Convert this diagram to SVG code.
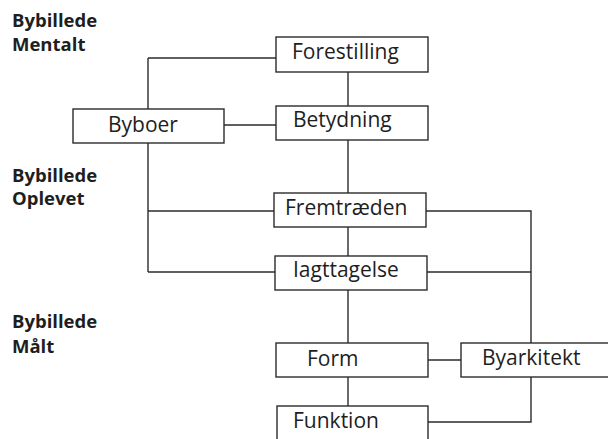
<svg xmlns="http://www.w3.org/2000/svg" width="608" height="439" viewBox="0 0 608 439">
<style>
.bg{fill:#fff}
.box{fill:#fff;stroke:#2b2b2b;stroke-width:1.4}
.ln{fill:none;stroke:#2b2b2b;stroke-width:1.4}
.lbl{font-family:"Open Sans","Liberation Sans",sans-serif;font-size:21px;fill:#1e1e1e}
.hd{font-family:"Open Sans","Liberation Sans",sans-serif;font-size:18.5px;font-weight:bold;fill:#1e1e1e}
</style>
<rect class="bg" x="0" y="0" width="608" height="439"/>
<g id="headings">
<text class="hd" x="12" y="27">Bybillede</text>
<text class="hd" x="12" y="51">Mentalt</text>
<text class="hd" x="12" y="182">Bybillede</text>
<text class="hd" x="12" y="205">Oplevet</text>
<text class="hd" x="12" y="328">Bybillede</text>
<text class="hd" x="12" y="353">Målt</text>
</g>
<g id="connectors">
<path class="ln" d="M148 58V272"/>
<path class="ln" d="M148 58H276"/>
<path class="ln" d="M148 211H274"/>
<path class="ln" d="M148 272H275"/>
<path class="ln" d="M224 125H276"/>
<path class="ln" d="M348 72V106"/>
<path class="ln" d="M348 140V193"/>
<path class="ln" d="M348 227V256"/>
<path class="ln" d="M348 290V343"/>
<path class="ln" d="M348 377V406"/>
<path class="ln" d="M426 211H531V343"/>
<path class="ln" d="M427 272H531"/>
<path class="ln" d="M531 377V422H428"/>
<path class="ln" d="M428 360H461"/>
</g>
<g id="node-forestilling"><rect class="box" x="276" y="37" width="152" height="35"/><text class="lbl" x="292" y="59">Forestilling</text></g>
<g id="node-betydning"><rect class="box" x="276" y="106" width="152" height="34"/><text class="lbl" x="293" y="127">Betydning</text></g>
<g id="node-byboer"><rect class="box" x="73" y="109" width="151" height="34"/><text class="lbl" x="108" y="132">Byboer</text></g>
<g id="node-fremtraeden"><rect class="box" x="274" y="193" width="152" height="34"/><text class="lbl" x="285" y="215">Fremtræden</text></g>
<g id="node-iagttagelse"><rect class="box" x="275" y="256" width="152" height="34"/><text class="lbl" x="293" y="277">Iagttagelse</text></g>
<g id="node-form"><rect class="box" x="276" y="343" width="152" height="34"/><text class="lbl" x="307" y="366">Form</text></g>
<g id="node-byarkitekt"><rect class="box" x="461" y="343" width="160" height="34"/><text class="lbl" x="482" y="365">Byarkitekt</text></g>
<g id="node-funktion"><rect class="box" x="277" y="406" width="151" height="40"/><text class="lbl" x="293" y="428">Funktion</text></g>
</svg>
